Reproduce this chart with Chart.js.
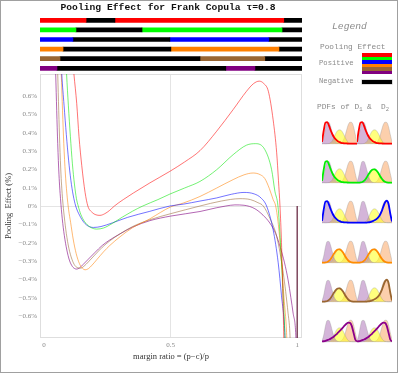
<!DOCTYPE html>
<html>
<head>
<meta charset="utf-8">
<script src="https://cdn.jsdelivr.net/npm/chart.js@4.4.1/dist/chart.umd.min.js"></script>
<style>
  html, body { margin: 0; padding: 0; background: #fff; }
  #page { position: relative; width: 398px; height: 373px; overflow: hidden; background: #fff; }
  #page canvas { position: absolute; }
  #border { position: absolute; left: 0; top: 0; width: 398px; height: 373px; box-sizing: border-box; border: 1px solid #a0a0a0; pointer-events: none; }
  .txt { position: absolute; white-space: pre; font-family: "Liberation Mono", monospace; color: #8a8a8a; }
  #title { left: 0; width: 336px; top: 2px; text-align: center; font-size: 9.7px; font-weight: bold; color: #111; line-height: 12px; }
  .swatch { position: absolute; left: 362px; width: 30px; }
  sub { font-size: 70%; vertical-align: -2px; line-height: 0; }
</style>
</head>
<body>
<div id="page">
  <canvas id="strips" width="398" height="80" style="left:0;top:0"></canvas>
  <canvas id="main" width="398" height="373" style="left:0;top:0"></canvas>
  <div id="title" class="txt">Pooling Effect for Frank Copula τ=0.8</div>
  <div class="txt" style="left:332px;top:21px;font-size:9.7px;font-style:italic;line-height:12px">Legend</div>
  <div class="txt" style="left:320px;top:42px;font-size:7.8px;line-height:10px">Pooling Effect</div>
  <div class="txt" style="left:319px;top:57.5px;font-size:7.2px;line-height:10px">Positive</div>
  <div class="txt" style="left:319px;top:76px;font-size:7.2px;line-height:10px">Negative</div>
  <div class="txt" style="left:317px;top:102px;font-size:7.8px;line-height:10px">PDFs of D<sub>1</sub> &amp;  D<sub>2</sub></div>
  <div id="legendBlock"></div>
  <div id="border"></div>
</div>
<script>
// x range of the plot (with the small padding on both sides)
const xMin = -0.016;
const xMax = 1.019;

const xTicks = [0, 0.5, 1];
const xTickLabels = ['0', '0.5', '1'];
const yTicks = [-0.6, -0.5, -0.4, -0.3, -0.2, -0.1, 0, 0.1, 0.2, 0.3, 0.4, 0.5, 0.6];

const seriesNames = ['red', 'green', 'blue', 'orange', 'brown', 'purple'];
const seriesColors = ['#ff0000', '#00ff00', '#0000ff', '#ff8000', '#996633', '#800080'];
const lineColors = ['rgba(255,0,0,0.55)', 'rgba(0,230,0,0.55)', 'rgba(0,0,255,0.55)',
  'rgba(255,128,0,0.55)', 'rgba(153,102,51,0.55)', 'rgba(128,0,128,0.6)'];

// pooling effect (%) against margin ratio, [x, y]
const redCurve = [[0.107,0.90],[0.118,0.72],[0.129,0.56],[0.138,0.38],[0.149,0.22],[0.162,0.075],[0.173,0.0],
  [0.19,-0.035],[0.205,-0.048],[0.221,-0.051],[0.24,-0.042],[0.258,-0.025],[0.278,0.0],[0.313,0.035],
  [0.353,0.071],[0.418,0.126],[0.497,0.189],[0.555,0.24],[0.616,0.302],[0.682,0.408],[0.747,0.526],
  [0.80,0.626],[0.828,0.668],[0.85,0.681],[0.868,0.668],[0.886,0.626],[0.905,0.47],[0.919,0.29],
  [0.926,0.14],[0.932,0.0],[0.938,-0.2],[0.943,-0.45],[0.947,-0.72],[0.949,-0.85]];
const greenCurve = [[0.083,0.90],[0.089,0.72],[0.096,0.55],[0.104,0.38],[0.112,0.23],[0.12,0.12],[0.128,0.04],
  [0.135,0.0],[0.145,-0.045],[0.16,-0.085],[0.18,-0.113],[0.208,-0.126],[0.235,-0.12],[0.27,-0.095],
  [0.31,-0.06],[0.35,-0.028],[0.39,0.0],[0.45,0.035],[0.497,0.065],[0.555,0.098],[0.616,0.134],
  [0.682,0.198],[0.747,0.28],[0.80,0.332],[0.836,0.340],[0.872,0.308],[0.899,0.198],[0.912,0.08],
  [0.924,0.0],[0.934,-0.2],[0.943,-0.45],[0.951,-0.69],[0.954,-0.85]];
const blueCurve = [[0.064,0.90],[0.070,0.72],[0.079,0.55],[0.088,0.39],[0.097,0.25],[0.106,0.14],[0.115,0.06],
  [0.125,0.0],[0.14,-0.05],[0.158,-0.09],[0.175,-0.11],[0.195,-0.117],[0.225,-0.112],[0.27,-0.092],
  [0.33,-0.062],[0.418,-0.029],[0.497,0.0],[0.55,0.01],[0.616,0.027],[0.682,0.044],[0.74,0.064],
  [0.79,0.074],[0.83,0.066],[0.857,0.044],[0.879,0.0],[0.905,-0.13],[0.925,-0.31],[0.938,-0.49],
  [0.951,-0.69],[0.955,-0.85]];
const orangeCurve = [[0.062,0.90],[0.068,0.72],[0.073,0.52],[0.078,0.34],[0.084,0.18],[0.09,0.07],[0.097,-0.02],
  [0.105,-0.09],[0.115,-0.18],[0.127,-0.26],[0.14,-0.315],[0.152,-0.34],[0.162,-0.348],[0.175,-0.342],
  [0.19,-0.322],[0.21,-0.29],[0.235,-0.25],[0.26,-0.215],[0.30,-0.168],[0.35,-0.118],[0.418,-0.07],
  [0.46,-0.035],[0.50,-0.005],[0.55,0.016],[0.616,0.052],[0.682,0.098],[0.747,0.144],[0.79,0.17],
  [0.826,0.18],[0.855,0.17],[0.872,0.15],[0.89,0.095],[0.905,0.035],[0.915,0.0],[0.927,-0.12],
  [0.938,-0.3],[0.948,-0.5],[0.958,-0.69],[0.962,-0.85]];
const brownCurve = [[0.050,0.90],[0.054,0.72],[0.058,0.52],[0.062,0.34],[0.067,0.17],[0.073,0.04],[0.08,-0.06],
  [0.088,-0.15],[0.098,-0.23],[0.11,-0.29],[0.122,-0.325],[0.134,-0.337],[0.145,-0.339],[0.158,-0.328],
  [0.175,-0.305],[0.2,-0.268],[0.23,-0.225],[0.26,-0.19],[0.30,-0.152],[0.35,-0.112],[0.418,-0.075],
  [0.5,-0.042],[0.56,-0.02],[0.616,0.0],[0.70,0.027],[0.774,0.04],[0.815,0.035],[0.845,0.018],
  [0.866,0.0],[0.893,-0.07],[0.919,-0.166],[0.945,-0.366],[0.964,-0.585],[0.971,-0.69],[0.975,-0.85]];
const purpleCurve = [[0.042,0.90],[0.046,0.72],[0.050,0.52],[0.054,0.34],[0.059,0.17],[0.065,0.04],[0.072,-0.07],
  [0.08,-0.16],[0.09,-0.24],[0.1,-0.295],[0.112,-0.33],[0.122,-0.342],[0.129,-0.344],[0.14,-0.338],
  [0.155,-0.318],[0.175,-0.29],[0.2,-0.255],[0.23,-0.215],[0.26,-0.185],[0.30,-0.152],[0.35,-0.115],
  [0.418,-0.08],[0.5,-0.055],[0.616,-0.03],[0.68,-0.01],[0.718,0.0],[0.754,0.006],[0.79,0.004],
  [0.833,-0.015],[0.865,-0.05],[0.892,-0.093],[0.915,-0.15],[0.932,-0.22],[0.95,-0.31],[0.964,-0.403],
  [0.975,-0.5],[0.984,-0.585],[0.994,-0.69],[0.998,-0.85]];
// all curves jump back up at x = 1
const jumpAtOne = [[1, 0], [1, -0.85]];

// sign changes of the pooling effect (positive, negative, positive, negative)
const redBreaks = [0.166, 0.280, 0.947];
const greenBreaks = [0.126, 0.387, 0.940];
const blueBreaks = [0.114, 0.497, 0.888];
const orangeBreaks = [0.075, 0.501, 0.928];
const brownBreaks = [0.063, 0.616, 0.872];
const purpleBreaks = [0.051, 0.718, 0.833];

// little PDF pictures: shared x grid, three background humps and four curve shapes
const iconX = [0,0.05,0.1,0.15,0.2,0.25,0.3,0.35,0.4,0.45,0.5,0.55,0.6,0.65,0.7,0.75,0.8,0.85,0.9,0.95,1];
const humpLilac = [0.03,0.3,0.72,0.97,0.97,0.76,0.46,0.2,0.07,0.015,0,0,0,0,0,0,0,0,0,0,0];
const humpYellow = [0,0,0,0,0.01,0.05,0.15,0.32,0.49,0.6,0.63,0.6,0.49,0.33,0.17,0.06,0.015,0,0,0,0];
const humpPeach = [0,0,0,0,0,0,0,0,0,0,0.01,0.04,0.13,0.32,0.6,0.86,0.98,0.97,0.78,0.42,0.08];
const pdfLeft = [0.08,0.6,0.96,0.98,0.82,0.6,0.42,0.28,0.18,0.11,0.07,0.04,0.025,0.015,0.01,0.005,0,0,0,0,0];
const pdfMid = [0,0,0.01,0.03,0.08,0.17,0.3,0.43,0.54,0.6,0.61,0.56,0.46,0.33,0.2,0.1,0.04,0.015,0.005,0,0];
const pdfRight = [0,0,0,0,0,0,0.01,0.02,0.04,0.07,0.11,0.16,0.23,0.34,0.5,0.72,0.92,1.0,0.86,0.42,0.05];
const pdfSkew = [0.01,0.02,0.04,0.07,0.1,0.14,0.19,0.25,0.32,0.4,0.48,0.56,0.65,0.74,0.82,0.87,0.86,0.72,0.42,0.1,0.01];
const iconShapes = [
  [pdfLeft, pdfLeft],
  [pdfLeft, pdfMid],
  [pdfLeft, pdfRight],
  [pdfMid, pdfMid],
  [pdfMid, pdfRight],
  [pdfSkew, pdfSkew]
];
const iconColors = ['#ff0000', '#00ee00', '#0000ff', '#ff8c00', '#9a6630', '#8b008b'];

const curves = [redCurve, greenCurve, blueCurve, orangeCurve, brownCurve, purpleCurve];
const breaks = [redBreaks, greenBreaks, blueBreaks, orangeBreaks, brownBreaks, purpleBreaks];

const toPoints = arr => arr.map(p => ({ x: p[0], y: p[1] }));

// ---- sign strips on top ----
const stripSets = [0, 1, 2, 3].map(k => ({
  data: breaks.map(b => {
    const edges = [xMin, ...b, xMax];
    return [edges[k], edges[k + 1]];
  }),
  backgroundColor: k % 2 === 0 ? seriesColors : '#000000',
  borderWidth: 0,
  barThickness: 4,
  grouped: false
}));

new Chart(document.getElementById('strips'), {
  type: 'bar',
  data: { labels: seriesNames, datasets: stripSets },
  options: {
    indexAxis: 'y',
    responsive: false,
    animation: false,
    layout: { padding: { left: 40, right: 96, top: 15.5, bottom: 6.9 } },
    plugins: { legend: { display: false }, tooltip: { enabled: false } },
    scales: {
      x: { type: 'linear', min: xMin, max: xMax, display: false },
      y: { type: 'category', display: false }
    }
  }
});

// ---- main plot ----
const framePlugin = {
  id: 'frame',
  beforeDatasetsDraw(chart) {
    const { ctx, chartArea: a } = chart;
    ctx.save();
    ctx.strokeStyle = '#dedede';
    ctx.lineWidth = 1;
    ctx.strokeRect(a.left + 0.5, a.top + 0.5, a.width - 1, a.height - 1);
    ctx.restore();
  }
};

const mainSets = curves.map((c, i) => ({
  data: toPoints(c),
  borderColor: lineColors[i],
  borderWidth: 1,
  pointRadius: 0,
  tension: 0.4,
  cubicInterpolationMode: 'monotone'
}));
mainSets.push({
  data: toPoints(jumpAtOne),
  borderColor: '#6b2d45',
  borderWidth: 1.3,
  pointRadius: 0
});

const tickFont = { family: 'Liberation Serif', size: 7 };
const titleFont = { family: 'Liberation Serif', size: 8.5 };

new Chart(document.getElementById('main'), {
  type: 'line',
  data: { datasets: mainSets },
  options: {
    responsive: false,
    animation: false,
    layout: { padding: { top: 74, right: 96, left: 0, bottom: 0 } },
    plugins: { legend: { display: false }, tooltip: { enabled: false } },
    scales: {
      x: {
        type: 'linear',
        min: xMin,
        max: xMax,
        afterFit: s => { s.height = 35; },
        afterBuildTicks: s => { s.ticks = xTicks.map(v => ({ value: v })); },
        ticks: {
          callback: (v, i) => xTickLabels[i],
          color: '#888',
          font: tickFont,
          padding: 2.5,
          maxRotation: 0,
          autoSkip: false
        },
        grid: {
          drawTicks: false,
          color: ctx => (ctx.tick && ctx.tick.value === 0.5 ? '#e4e4e4' : 'rgba(0,0,0,0)')
        },
        border: { display: false },
        title: {
          display: true,
          text: 'margin ratio = (p\u2212c)/p',
          color: '#333',
          font: titleFont,
          padding: { top: 0, bottom: 11 }
        }
      },
      y: {
        type: 'linear',
        min: -0.72,
        max: 0.72,
        afterFit: s => { s.width = 40; },
        afterBuildTicks: s => { s.ticks = yTicks.map(v => ({ value: v })); },
        ticks: {
          callback: v => (v < 0 ? '\u2212' : '') + Math.abs(v) + '%',
          color: '#888',
          font: tickFont,
          padding: 3,
          autoSkip: false
        },
        grid: {
          drawTicks: false,
          color: ctx => (ctx.tick && ctx.tick.value === 0 ? '#e4e4e4' : 'rgba(0,0,0,0)')
        },
        border: { display: false },
        title: {
          display: true,
          text: 'Pooling  Effect (%)',
          color: '#333',
          font: titleFont,
          padding: { top: 3.5, bottom: 0 }
        }
      }
    }
  },
  plugins: [framePlugin]
});

// ---- legend colour block ----
const block = document.getElementById('legendBlock');
seriesColors.forEach((c, i) => {
  const d = document.createElement('div');
  d.className = 'swatch';
  d.style.top = (53.3 + i * 3.45) + 'px';
  d.style.height = '3.45px';
  d.style.background = c;
  block.appendChild(d);
});
const neg = document.createElement('div');
neg.className = 'swatch';
neg.style.top = '79.5px';
neg.style.height = '4px';
neg.style.background = '#000';
neg.style.boxShadow = '0 0 0 0.5px #bbb';
block.appendChild(neg);

// ---- PDF pictures ----
const humpSet = (vals, fillColor) => ({
  data: iconX.map((x, j) => ({ x: x, y: vals[j] })),
  borderColor: 'rgba(140,140,140,0.45)',
  borderWidth: 0.7,
  backgroundColor: fillColor,
  fill: 'origin',
  pointRadius: 0,
  tension: 0.4,
  cubicInterpolationMode: 'monotone'
});

const page = document.getElementById('page');
iconShapes.forEach((pair, row) => {
  pair.forEach((shape, col) => {
    const cv = document.createElement('canvas');
    cv.width = 35;
    cv.height = 25;
    cv.style.left = (col === 0 ? 322 : 357) + 'px';
    cv.style.top = (119.8 + row * 39.65) + 'px';
    page.insertBefore(cv, document.getElementById('border'));
    new Chart(cv, {
      type: 'line',
      data: {
        datasets: [
          {
            data: iconX.map((x, j) => ({ x: x, y: shape[j] })),
            borderColor: iconColors[row],
            borderWidth: 1.8,
            pointRadius: 0,
            fill: false,
            tension: 0.4,
            cubicInterpolationMode: 'monotone'
          },
          humpSet(humpLilac, 'rgba(160,90,170,0.45)'),
          humpSet(humpYellow, 'rgba(255,255,40,0.6)'),
          humpSet(humpPeach, 'rgba(250,160,90,0.5)')
        ]
      },
      options: {
        responsive: false,
        animation: false,
        layout: { padding: 0 },
        plugins: { legend: { display: false }, tooltip: { enabled: false } },
        scales: {
          x: { type: 'linear', min: 0, max: 1, display: false },
          y: { type: 'linear', min: -0.06, max: 1.08, display: false }
        }
      }
    });
  });
});
</script>
</body>
</html>
